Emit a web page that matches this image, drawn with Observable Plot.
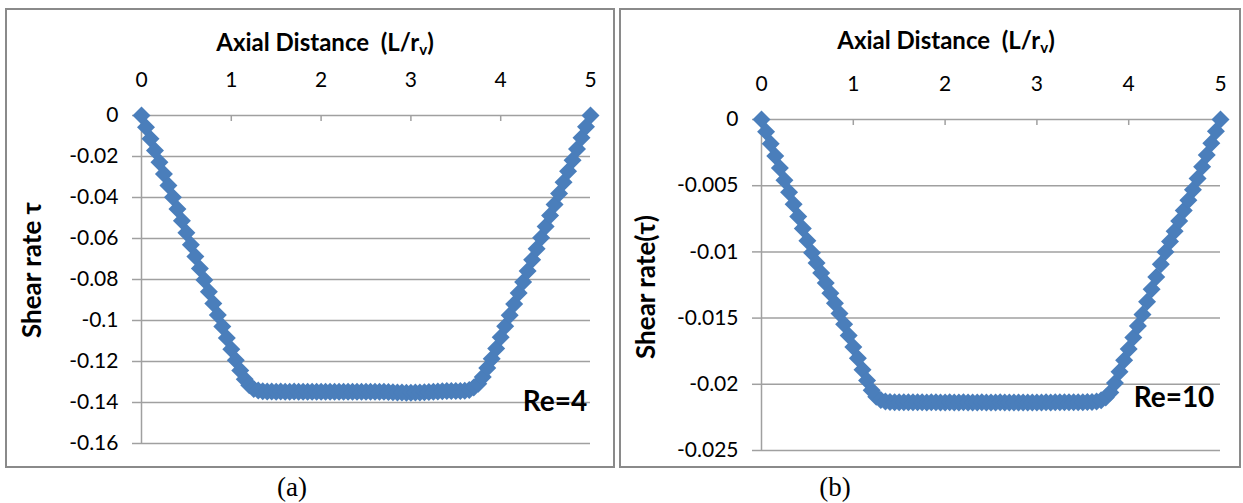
<!DOCTYPE html>
<html><head><meta charset="utf-8">
<script src="https://cdn.jsdelivr.net/npm/d3@7"></script>
<script src="https://cdn.jsdelivr.net/npm/@observablehq/plot@0.6"></script>
<style>
html,body{margin:0;padding:0;background:#fff;}
body{width:1243px;height:503px;overflow:hidden;font-family:Lato,"Open Sans",sans-serif;color:#000;}
#root{position:relative;width:1243px;height:503px;}
.frame{position:absolute;border:2px solid #8a8a8a;box-sizing:border-box;}
.plot{position:absolute;}
.title{position:absolute;font-weight:bold;font-size:24px;transform:translate(-50%,-50%);white-space:nowrap;}
.title sub{font-size:15px;vertical-align:-4px;}
.ylab{position:absolute;font-weight:bold;font-size:26px;transform:translate(-50%,-50%) rotate(-90deg);white-space:nowrap;}
.re{position:absolute;font-weight:bold;font-size:28px;white-space:nowrap;transform:translate(-50%,-50%);}
.cap{position:absolute;font-family:"Liberation Serif",serif;font-size:27px;transform:translate(-50%,-50%);}
</style>
</head><body>
<div id="root">
  <div class="frame" style="left:5px;top:8px;width:610px;height:460px;"></div>
  <div class="frame" style="left:619px;top:8px;width:622px;height:460px;"></div>
  <div class="plot" id="pa" style="left:0;top:0;"></div>
  <div class="plot" id="pb" style="left:620px;top:0;"></div>
  <div class="title" style="left:325px;top:42px;">Axial Distance&nbsp; (L/r<sub>v</sub>)</div>
  <div class="title" style="left:946px;top:40px;">Axial Distance&nbsp; (L/r<sub>v</sub>)</div>
  <div class="ylab" style="left:31px;top:270px;">Shear rate τ</div>
  <div class="ylab" style="left:645px;top:287px;">Shear rate(τ)</div>
  <div class="re" style="left:555px;top:400px;">Re=4</div>
  <div class="re" style="left:1174px;top:396px;">Re=10</div>
  <div class="cap" style="left:292px;top:487px;">(a)</div>
  <div class="cap" style="left:835px;top:487px;">(b)</div>
</div>
<script>
// Axial distance (L/r_v) of each sample
const axialDistance = [0,0.05,0.1,0.15,0.2,0.25,0.3,0.35,0.4,0.45,0.5,0.55,0.6,0.65,0.7,0.75,0.8,0.85,0.9,0.95,
  1,1.05,1.1,1.15,1.2,1.25,1.3,1.35,1.4,1.45,1.5,1.55,1.6,1.65,1.7,1.75,1.8,1.85,1.9,1.95,
  2,2.05,2.1,2.15,2.2,2.25,2.3,2.35,2.4,2.45,2.5,2.55,2.6,2.65,2.7,2.75,2.8,2.85,2.9,2.95,
  3,3.05,3.1,3.15,3.2,3.25,3.3,3.35,3.4,3.45,3.5,3.55,3.6,3.65,3.7,3.75,3.8,3.85,3.9,3.95,
  4,4.05,4.1,4.15,4.2,4.25,4.3,4.35,4.4,4.45,4.5,4.55,4.6,4.65,4.7,4.75,4.8,4.85,4.9,4.95,5];
// Shear rate, Re = 4
const shearRe4 = [0,-0.0057,-0.0114,-0.0171,-0.0228,-0.0285,-0.0342,-0.0399,-0.0456,-0.0514,
  -0.0572,-0.0630,-0.0688,-0.0746,-0.0803,-0.0860,-0.0917,-0.0973,-0.1029,-0.1085,
  -0.1140,-0.1194,-0.1244,-0.1286,-0.1316,-0.1334,-0.1342,-0.1345,-0.1346,-0.1346,
  -0.1347,-0.1346,-0.1347,-0.1347,-0.1346,-0.1347,-0.1347,-0.1348,-0.1347,-0.1347,
  -0.1348,-0.1347,-0.1348,-0.1348,-0.1347,-0.1348,-0.1348,-0.1348,-0.1347,-0.1348,
  -0.1348,-0.1348,-0.1347,-0.1347,-0.1348,-0.1349,-0.1350,-0.1351,-0.1351,-0.1352,
  -0.1352,-0.1351,-0.1351,-0.1350,-0.1349,-0.1347,-0.1346,-0.1345,-0.1344,-0.1344,
  -0.1344,-0.1344,-0.1343,-0.1339,-0.1327,-0.1308,-0.1275,-0.1232,-0.1186,-0.1136,
  -0.1082,-0.1028,-0.0974,-0.0920,-0.0866,-0.0812,-0.0758,-0.0704,-0.0650,-0.0596,
  -0.0542,-0.0488,-0.0434,-0.0380,-0.0326,-0.0272,-0.0218,-0.0164,-0.0109,-0.0055,0];
// Shear rate, Re = 10
const shearRe10 = [0,-0.00092,-0.00183,-0.00275,-0.00366,-0.00458,-0.00549,-0.00641,-0.00733,-0.00824,
  -0.00916,-0.01006,-0.01083,-0.01159,-0.01235,-0.01312,-0.01388,-0.01465,-0.01546,-0.01632,
  -0.01718,-0.01804,-0.01890,-0.01972,-0.02045,-0.02094,-0.02119,-0.02130,-0.02134,-0.02135,
  -0.02136,-0.02135,-0.02136,-0.02136,-0.02135,-0.02136,-0.02137,-0.02136,-0.02136,-0.02137,
  -0.02137,-0.02136,-0.02137,-0.02137,-0.02136,-0.02137,-0.02137,-0.02137,-0.02136,-0.02137,
  -0.02137,-0.02137,-0.02136,-0.02137,-0.02137,-0.02137,-0.02138,-0.02137,-0.02137,-0.02138,
  -0.02137,-0.02137,-0.02136,-0.02137,-0.02136,-0.02136,-0.02135,-0.02136,-0.02135,-0.02135,
  -0.02135,-0.02134,-0.02134,-0.02130,-0.02121,-0.02100,-0.02062,-0.01991,-0.01905,-0.01819,
  -0.01733,-0.01647,-0.01560,-0.01472,-0.01377,-0.01283,-0.01189,-0.01094,-0.01000,-0.00922,
  -0.00844,-0.00766,-0.00688,-0.00609,-0.00531,-0.00446,-0.00357,-0.00268,-0.00179,-0.00089,0];

const xTickValues = [0,1,2,3,4,5];
const yTicksRe4 = [0,-0.02,-0.04,-0.06,-0.08,-0.1,-0.12,-0.14,-0.16];
const yTicksRe10 = [0,-0.005,-0.01,-0.015,-0.02,-0.025];

const markerColor = "#4a7ebb";
const gridColor = "#a0a0a0";

const diamond = {
  draw(context, size) {
    const r = Math.sqrt(size / Math.PI);
    context.moveTo(0, -r);
    context.lineTo(r, 0);
    context.lineTo(0, r);
    context.lineTo(-r, 0);
    context.closePath();
  }
};

const fmt = d => d === 0 ? "0" : String(+d.toFixed(4));

function chart(values, yTicks, opts) {
  const data = axialDistance.map((x, i) => ({x, y: values[i]}));
  const plotH = opts.height - opts.marginTop - opts.marginBottom;
  return Plot.plot({
    width: opts.width,
    height: opts.height,
    marginLeft: opts.marginLeft,
    marginRight: opts.marginRight,
    marginTop: opts.marginTop,
    marginBottom: opts.marginBottom,
    style: {fontFamily: "Lato, 'Open Sans', sans-serif", fontSize: "21px", color: "#000", background: "transparent", overflow: "visible"},
    x: {domain: [0, 5]},
    y: {domain: [yTicks[yTicks.length - 1], 0]},
    marks: [
      Plot.gridY(yTicks, {stroke: gridColor, strokeOpacity: 1, strokeWidth: 1.5}),
      Plot.ruleX([0], {stroke: gridColor, strokeWidth: 1.5}),
      Plot.axisY(yTicks, {tickSize: 9, tickPadding: 14, tickFormat: fmt, stroke: gridColor, strokeWidth: 1.5, strokeOpacity: 1, fill: "#000", fontSize: 21, label: null}),
      Plot.tickX(xTickValues.slice(1), {x: d => d, insetBottom: plotH - 6, stroke: gridColor, strokeWidth: 1.5}),
      Plot.axisX(xTickValues, {anchor: "top", tickSize: 0, tickPadding: 29, fill: "#000", fontSize: 21, label: null}),
      Plot.dot(data, {x: "x", y: "y", r: 9, symbol: diamond, fill: markerColor, stroke: "none"})
    ]
  });
}

document.getElementById("pa").appendChild(chart(shearRe4, yTicksRe4, {
  width: 620, height: 470, marginLeft: 141, marginRight: 30, marginTop: 115, marginBottom: 27
}));
document.getElementById("pb").appendChild(chart(shearRe10, yTicksRe10, {
  width: 623, height: 470, marginLeft: 141, marginRight: 23, marginTop: 119, marginBottom: 20
}));
</script>
</body></html>
